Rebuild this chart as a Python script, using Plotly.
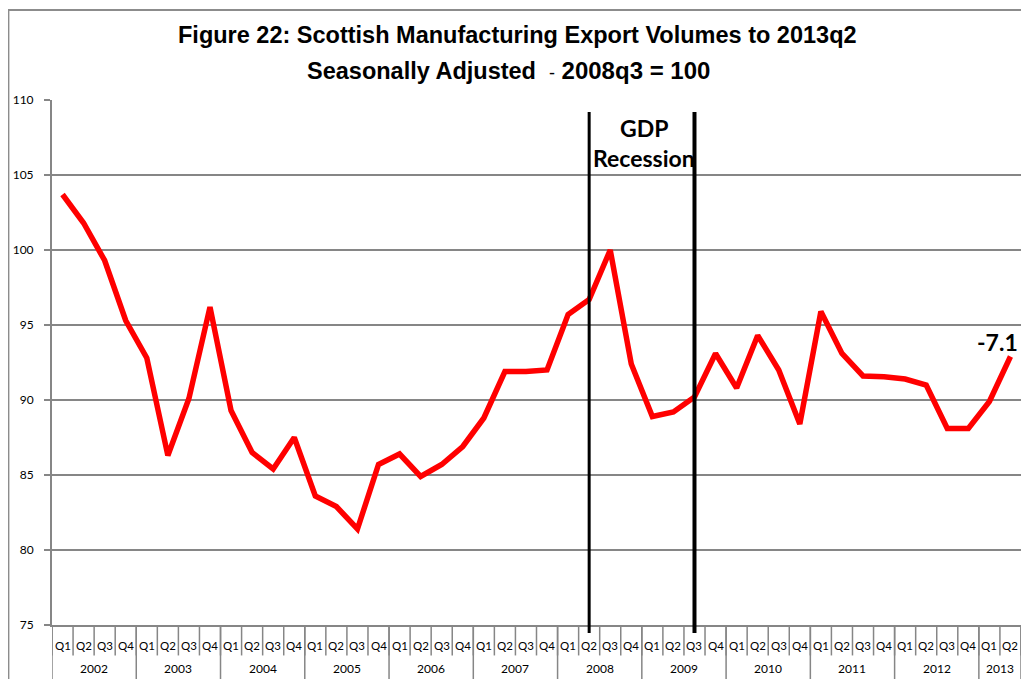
import plotly.graph_objects as go

years = ["2002", "2003", "2004", "2005", "2006", "2007", "2008", "2009", "2010", "2011", "2012", "2013"]
quarters_per_year = [4, 4, 4, 4, 4, 4, 4, 4, 4, 4, 4, 2]
quarter_names = ["Q1", "Q2", "Q3", "Q4"]

values = [
    103.7, 101.8, 99.3, 95.3,
    92.8, 86.3, 90.1, 96.2,
    89.3, 86.5, 85.4, 87.5,
    83.6, 82.9, 81.4, 85.7,
    86.4, 84.9, 85.7, 86.9,
    88.8, 91.9, 91.9, 92.0,
    95.7, 96.7, 100.0, 92.4,
    88.9, 89.2, 90.2, 93.1,
    90.8, 94.3, 92.0, 88.4,
    95.9, 93.1, 91.6, 91.55,
    91.4, 91.0, 88.1, 88.1,
    89.9, 92.9,
]

recession_start = "2008 Q2"
recession_end = "2009 Q3"
change_label = "-7.1"

cats = []
qlabels = []
year_spans = []
for y, n in zip(years, quarters_per_year):
    start = len(cats)
    for q in quarter_names[:n]:
        cats.append(f"{y} {q}")
        qlabels.append(q)
    year_spans.append((y, start, len(cats) - 1))

fig = go.Figure()
fig.add_trace(go.Scatter(
    x=cats, y=values, mode="lines",
    line=dict(color="#FF0000", width=5.5),
    hoverinfo="x+y", showlegend=False,
))

GRAY = "#868686"
shapes = []
annotations = []

# Quarter boxes
for i in range(len(cats) + 1):
    shapes.append(dict(type="line", xref="x", yref="paper", x0=i - 0.5, x1=i - 0.5,
                       y0=0, y1=-0.058, line=dict(color=GRAY, width=1.5), layer="below"))
for i, q in enumerate(qlabels):
    annotations.append(dict(x=cats[i], y=-0.039, xref="x", yref="paper", text=q,
                            xanchor="center", yanchor="middle",
                            showarrow=False, font=dict(family="Lato", size=11.5, color="black")))
# Year dividers and labels
for y, s, e in year_spans:
    shapes.append(dict(type="line", xref="x", yref="paper", x0=s - 0.5, x1=s - 0.5,
                       y0=0, y1=-0.12, line=dict(color=GRAY, width=1.5), layer="below"))
    annotations.append(dict(x=(s + e) / 2, y=-0.082, xref="x", yref="paper", text=y,
                            xanchor="center", yanchor="middle",
                            showarrow=False, font=dict(family="Lato", size=12, color="black")))
shapes.append(dict(type="line", xref="x", yref="paper", x0=len(cats) - 0.5, x1=len(cats) - 0.5,
                   y0=0, y1=-0.12, line=dict(color=GRAY, width=1.5), layer="below"))

# Recession lines
i0 = cats.index(recession_start)
i1 = cats.index(recession_end)
shapes.append(dict(type="line", xref="x", yref="paper", x0=i0, x1=i0, y0=-0.015, y1=0.977,
                   line=dict(color="black", width=3)))
shapes.append(dict(type="line", xref="x", yref="paper", x0=i1, x1=i1, y0=-0.015, y1=0.977,
                   line=dict(color="black", width=4)))

# Outer chart border
shapes.append(dict(type="rect", xref="paper", yref="paper", x0=-0.045, x1=1.02, y0=-0.3, y1=1.1714,
                   line=dict(color="#8c8c8c", width=2), fillcolor="rgba(0,0,0,0)"))

annotations.append(dict(x=(i0 + i1) / 2 + 0.1, y=108.15, xref="x", yref="y", text="<b>GDP</b>",
                        showarrow=False, font=dict(family="Lato", size=23, color="black")))
annotations.append(dict(x=(i0 + i1) / 2 + 0.1, y=106.15, xref="x", yref="y", text="<b>Recession</b>",
                        showarrow=False, font=dict(family="Lato", size=23, color="black")))
annotations.append(dict(x=cats[-1], y=values[-1], xref="x", yref="y", text=f"<b>{change_label}</b>",
                        showarrow=False, xanchor="right", yanchor="middle", xshift=10, yshift=15,
                        font=dict(family="Lato", size=23, color="black")))

annotations.append(dict(x=0.48, y=1.124, xref="paper", yref="paper",
                        xanchor="center", yanchor="middle",
                        text="<b>Figure 22: Scottish Manufacturing Export Volumes to 2013q2</b>",
                        showarrow=False, font=dict(family="Liberation Sans", size=23.5, color="black")))
annotations.append(dict(x=0.471, y=1.057, xref="paper", yref="paper",
                        xanchor="center", yanchor="middle",
                        text="<b>Seasonally Adjusted</b>  <span style='font-size:18px'>-</span> <b><span style='font-size:24px'>2008q3 = 100</span></b>",
                        showarrow=False, font=dict(family="Liberation Sans", size=23.5, color="black")))

fig.update_layout(
    width=1013, height=671,
    margin=dict(l=44, r=0, t=92, b=54),
    paper_bgcolor="white", plot_bgcolor="white",
    shapes=shapes, annotations=annotations,
    xaxis=dict(type="category", range=[-0.5, len(cats) - 0.5], showticklabels=False,
               showgrid=False, ticks="", showline=True, linecolor=GRAY, linewidth=2, zeroline=False),
    yaxis=dict(range=[75, 110], dtick=5, tick0=75, showgrid=True, gridcolor=GRAY, gridwidth=2,
               showline=True, linecolor=GRAY, linewidth=2, ticks="outside", ticklen=6,
               tickcolor=GRAY, tickwidth=2, zeroline=False, ticklabelstandoff=8,
               tickfont=dict(family="Lato", size=12, color="black")),
)

fig.write_html("out.html")
